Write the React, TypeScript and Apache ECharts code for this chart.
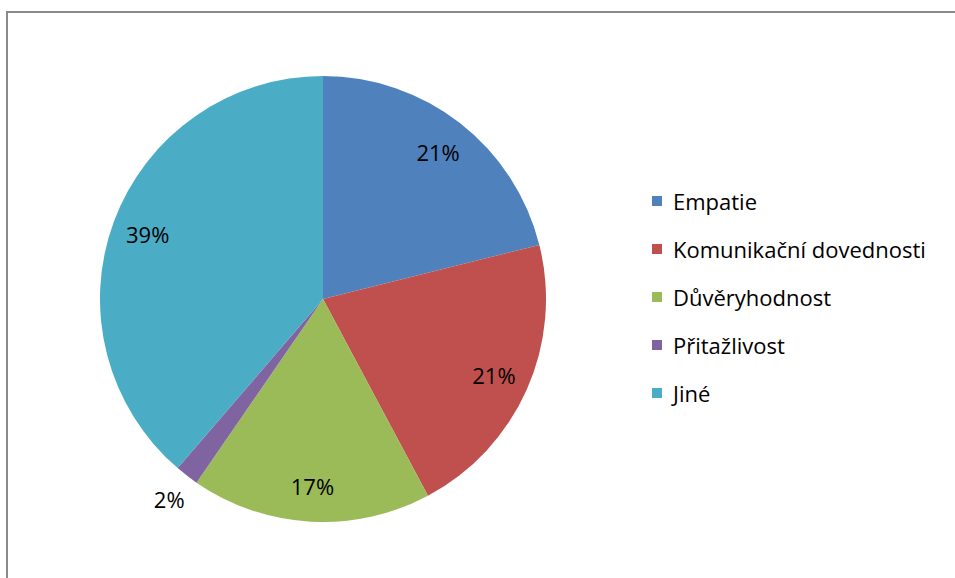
import React, { useEffect, useRef } from "react";
import * as echarts from "echarts";

const categories = ["Empatie", "Komunikační dovednosti", "Důvěryhodnost", "Přitažlivost", "Jiné"];
const shares = [21.1, 21.1, 17.4, 1.7, 38.7];
const colors = ["#4F81BD", "#C0504D", "#9BBB59", "#8064A2", "#4BACC6"];
const outsideLabelIndex = 3;

const FONT = "'Open Sans', 'Liberation Sans', sans-serif";

export default function App() {
  const ref = useRef<HTMLDivElement>(null);
  useEffect(() => {
    if (!ref.current) return;
    const chart = echarts.init(ref.current, undefined, { renderer: "svg" });
    const center = [323, 299];
    const pct = (p: any) => Math.round(p.percent) + "%";
    const labelStyle = { color: "#000", fontSize: 22, fontFamily: FONT };
    chart.setOption({
      animation: false,
      backgroundColor: "#fff",
      legend: {
        orient: "vertical",
        left: 652,
        top: 190,
        padding: 0,
        itemWidth: 10,
        itemHeight: 10,
        itemGap: 26,
        icon: "rect",
        selectedMode: false,
        textStyle: { color: "#000", fontSize: 22, fontFamily: FONT, lineHeight: 20, padding: [2, 0, 0, 6] },
        data: categories.map((c, i) => ({ name: c, itemStyle: { color: colors[i] } })),
      },
      graphic: [
        {
          type: "rect",
          shape: { x: 7, y: 12, width: 980, height: 620 },
          style: { fill: "none", stroke: "#8A8A8A", lineWidth: 2 },
          silent: true,
        },
      ],
      series: [
        {
          type: "pie",
          center,
          radius: 223,
          startAngle: 90,
          clockwise: true,
          avoidLabelOverlap: false,
          emphasis: { disabled: true },
          label: { show: false },
          labelLine: { show: false },
          itemStyle: { borderWidth: 0 },
          data: categories.map((c, i) => ({ name: c, value: shares[i], itemStyle: { color: colors[i] } })),
        },
        {
          type: "pie",
          center,
          radius: [148, 220],
          startAngle: 90,
          silent: true,
          legendHoverLink: false,
          emphasis: { disabled: true },
          itemStyle: { color: "rgba(0,0,0,0)", borderWidth: 0 },
          label: { show: true, position: "inside", formatter: pct, ...labelStyle },
          labelLine: { show: false },
          data: categories.map((c, i) => ({
            name: c,
            value: shares[i],
            label: { show: i !== outsideLabelIndex },
          })),
        },
        {
          type: "pie",
          center,
          radius: [226, 272],
          startAngle: 90,
          silent: true,
          legendHoverLink: false,
          emphasis: { disabled: true },
          itemStyle: { color: "rgba(0,0,0,0)", borderWidth: 0 },
          label: { show: true, position: "inside", formatter: pct, ...labelStyle },
          labelLine: { show: false },
          data: categories.map((c, i) => ({
            name: c,
            value: shares[i],
            label: { show: i === outsideLabelIndex },
          })),
        },
      ],
    });
    return () => chart.dispose();
  }, []);
  return (
    <div
      ref={ref}
      style={{ position: "fixed", left: 0, top: 0, width: 955, height: 578 }}
    />
  );
}
